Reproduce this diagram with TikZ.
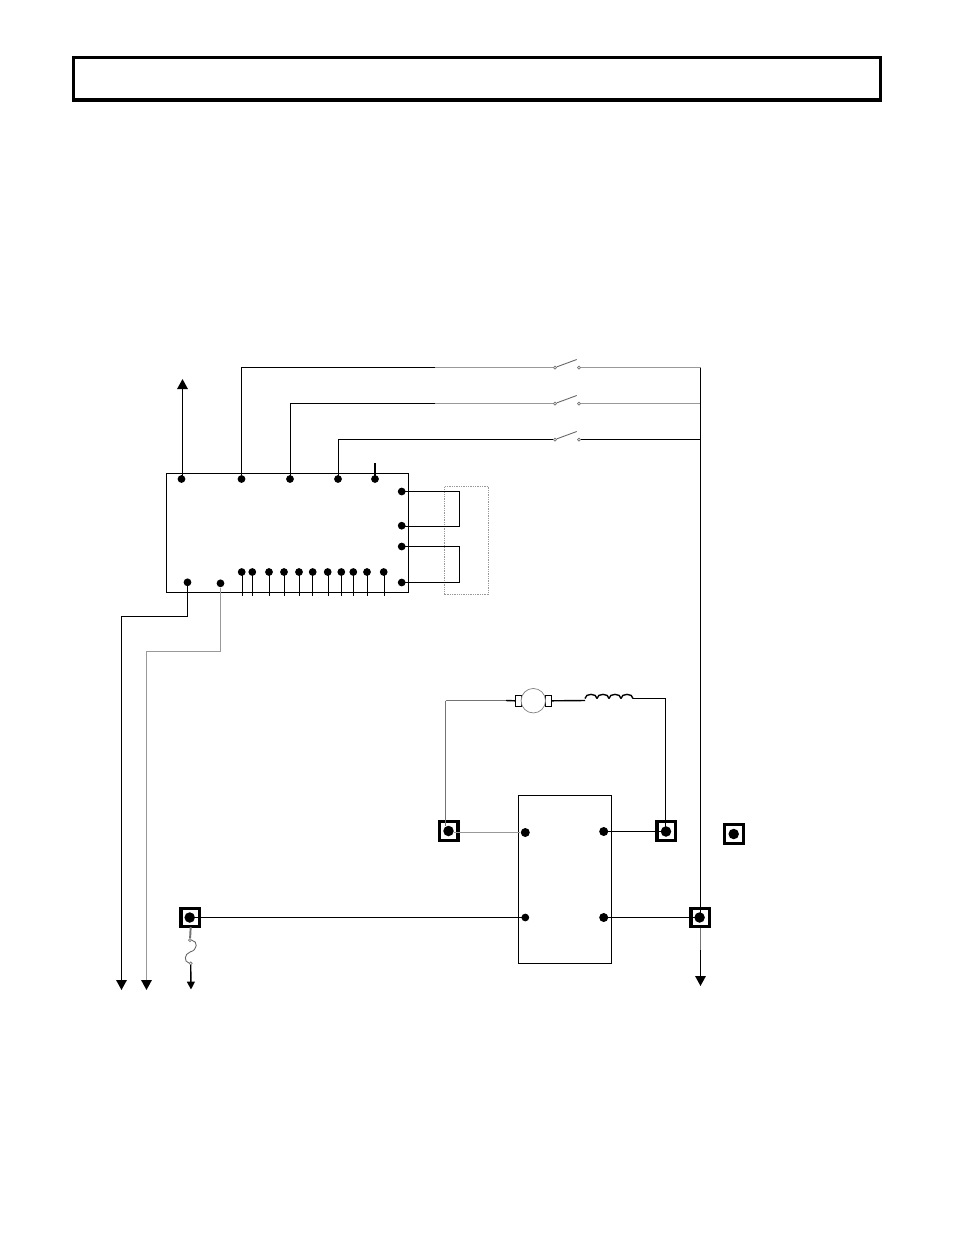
\documentclass[tikz,border=0pt]{standalone}
\usepackage{amsmath}
\usetikzlibrary{calc,arrows.meta}
\tikzset{
  wire/.style={line width=0.8pt},
  grwire/.style={line width=0.9pt,color=black!40},
  fatgr/.style={line width=1pt,color=black!40},
  dkwire/.style={line width=1.1pt,color=black!55},
  dot/.style={circle,fill=black,inner sep=0pt,minimum size=0.155cm},
  bigdot/.style={circle,fill=black,inner sep=0pt,minimum size=0.18cm},
  termdot/.style={circle,fill=black,inner sep=0pt,minimum size=0.21cm},
  term/.style={draw,line width=1.8pt,inner sep=0pt,minimum size=0.37cm},
  contact/.style={circle,draw=black!55,fill=white,line width=0.4pt,inner sep=0pt,minimum size=0.06cm},
  brush/.style={draw,fill=white,line width=0.6pt,inner sep=0pt,minimum width=0.12cm,minimum height=0.22cm},
  flow/.style={-{Triangle[length=5.7pt,width=6pt,color=black]}},
}
\begin{document}
\begin{tikzpicture}[x=0.02cm,y=-0.02cm]
  \path[use as bounding box,fill=white] (0,0) rectangle (954,1235);
  % title bar
  \node[draw,line width=1.8pt,minimum width=16.15cm,minimum height=0.85cm,inner sep=0pt] (title) at (477.2,78.7) {};
  % control board
  \node[draw=black!40,line width=0.5pt,dash pattern=on 0.5pt off 0.5pt,minimum width=0.875cm,minimum height=2.17cm,inner sep=0pt] (plug) at (466.8,540.5) {};
  \node[draw,line width=0.8pt,minimum width=4.84cm,minimum height=2.38cm,inner sep=0pt] (board) at (287.5,533) {};
  \node[dot] (top0) at (181.5,479) {};
  \node[dot] (top1) at (241.5,479) {};
  \node[dot] (top2) at (290,479) {};
  \node[dot] (top3) at (338,479) {};
  \node[dot] (top4) at (375,479) {};
  \node[dot] (rt1) at (401.7,491.5) {};
  \node[dot] (rt2) at (401.7,525.7) {};
  \node[dot] (rt3) at (401.7,546.5) {};
  \node[dot] (rt4) at (401.7,582.5) {};
  \node[dot] (lo1) at (187.5,582.3) {};
  \node[dot] (lo2) at (220.5,583.3) {};
  \foreach \n/\px/\lx in {1/241.7/242.5,2/252.3/252.5,3/269/269.5,4/284/284.5,5/299/299.5,6/312.7/312.5,7/327.7/328.5,8/341.3/341.5,9/353.3/353.5,10/367/367.5,11/383.7/384.5} {
    \node[dot] (bt\n) at (\px,572) {};
    \coordinate (be\n) at (\lx,596);
    \draw[wire] (\lx,572) -- (be\n);
  }
  % loops on the right side
  \coordinate (lp1) at (459.5,491.5);
  \coordinate (lp2) at (459.5,526.5);
  \coordinate (lp3) at (459.5,546.5);
  \coordinate (lp4) at (459.5,582.5);
  \draw[wire] (rt1.center) -- (lp1) -- (lp2) -- (rt2.center |- lp2);
  \draw[wire] (rt3.center) -- (lp3) -- (lp4) -- (rt4.center);
  % switches
  \foreach \n/\yy in {1/367.5,2/403.5,3/439.5} {
    \node[contact] (swa\n) at (555,\yy) {};
    \node[contact] (swb\n) at (579,\yy) {};
    \coordinate (bl\n) at (576.7,\yy-8);
    \coordinate (bus\n) at (700.5,\yy);
    \draw[line width=0.5pt,black!60] (swa\n) -- (bl\n);
  }
  \coordinate (j1) at (435,367.5);
  \coordinate (j2) at (435,403.5);
  \draw[wire] (241.5,479) |- (j1);
  \draw[grwire] (j1) -- (swa1);
  \draw[wire] (290.5,479) |- (j2);
  \draw[grwire] (j2) -- (swa2);
  \draw[wire] (338.5,479) |- (swa3);
  \draw[grwire] (swb1) -- (bus1);
  \draw[grwire] (swb2) -- (bus2);
  \draw[wire] (swb3) -- (bus3);
  \coordinate (stub) at (375,463);
  \draw[wire] (top4.center) -- (stub);
  \coordinate (upend) at (182.5,379);
  \draw[wire,flow] (182.5,479) -- (upend);
  % lines off the board
  \coordinate (dn1) at (121.5,990);
  \coordinate (dn2) at (146.5,990);
  \coordinate (k1) at (187.5,616.5);
  \coordinate (k2) at (220.5,651.5);
  \draw[wire,flow] (lo1.center) -- (k1) -| (dn1);
  \draw[grwire,flow] (lo2.south) -- (k2) -| (dn2);
  % motor and field winding
  \node[brush] (bl) at (518.3,700.8) {};
  \node[brush] (br) at (548.7,700.8) {};
  \node[circle,draw=black!50,fill=white,line width=0.4pt,inner sep=0pt,minimum size=0.49cm] (motor) at (533.3,700.7) {};
  \coordinate (c0) at (585,698.5);
  \coordinate (c1) at (633,698.5);
  \foreach \k in {0,1,2,3} {
    \draw[wire] ({585+12*\k},698.5) .. controls +(0,-5.5) and +(0,-5.5) .. ({597+12*\k},698.5);
  }
  \draw[wire] (br.east) -- (585,700.5);
  % relay box
  \node[draw,line width=0.8pt,minimum width=1.87cm,minimum height=3.36cm,inner sep=0pt] (relay) at (565,879.5) {};
  \node[bigdot] (ra) at (525.3,832.5) {};
  \node[bigdot] (rb) at (603.7,831.5) {};
  \node[dot] (rc) at (525.3,917.5) {};
  \node[bigdot] (rd) at (603.7,917.5) {};
  % terminals
  \node[term] (t1) at (448.8,831) {};
  \node[termdot] (d1) at (448.5,831) {};
  \node[term] (t2) at (666.2,831) {};
  \node[termdot] (d2) at (666,831.5) {};
  \node[term] (t3) at (734,834) {};
  \node[termdot] (d3) at (733.7,834) {};
  \node[term] (t4) at (700.2,917.5) {};
  \node[termdot] (d4) at (699.6,917.5) {};
  \node[term] (t5) at (190.3,917.5) {};
  \node[termdot] (d5) at (189.7,917.5) {};
  % wiring to the terminals
  \coordinate (m1) at (445.5,700.5);
  \coordinate (m2) at (506,700.5);
  \coordinate (v1) at (445.5,826);
  \draw[dkwire] (m1) -- (v1);
  \draw[dkwire] (m1) -- (m2);
  \draw[wire] (m2) -- (bl.west);
  \coordinate (v2) at (665.5,698.5);
  \draw[wire] (c1) -- (v2) -- (665.5,831);
  \coordinate (t1g) at (454,832.5);
  \draw[fatgr] (t1g) -- (ra.west);
  \draw[wire] (rb.center) -- (d2.center);
  \draw[wire] (d5.center) -- (rc.center);
  \draw[wire] (rd.center) -- (d4.center);
  % bus on the right
  \coordinate (busend) at (700.5,986);
  \coordinate (g1) at (700.5,950);
  \draw[wire] (bus1) -- (700.5,917.5);
  \draw[dkwire] (700.5,927.5) -- (g1);
  \draw[wire,flow] (g1) -- (busend);
  % fuse
  \node[contact] (fa) at (190,940) {};
  \node[contact] (fb) at (190.7,963.3) {};
  \coordinate (fuend) at (191,989.5);
  \draw[dkwire] (190.7,927) -- (fa);
  \draw[line width=0.5pt,black!60] (fa) .. controls (198,941) and (198,950) .. (190,952) .. controls (184,954) and (184,962) .. (fb);
  \draw[wire,-{Triangle[length=4.5pt,width=4.5pt]}] (fb) -- (fuend);
\end{tikzpicture}
\end{document}
